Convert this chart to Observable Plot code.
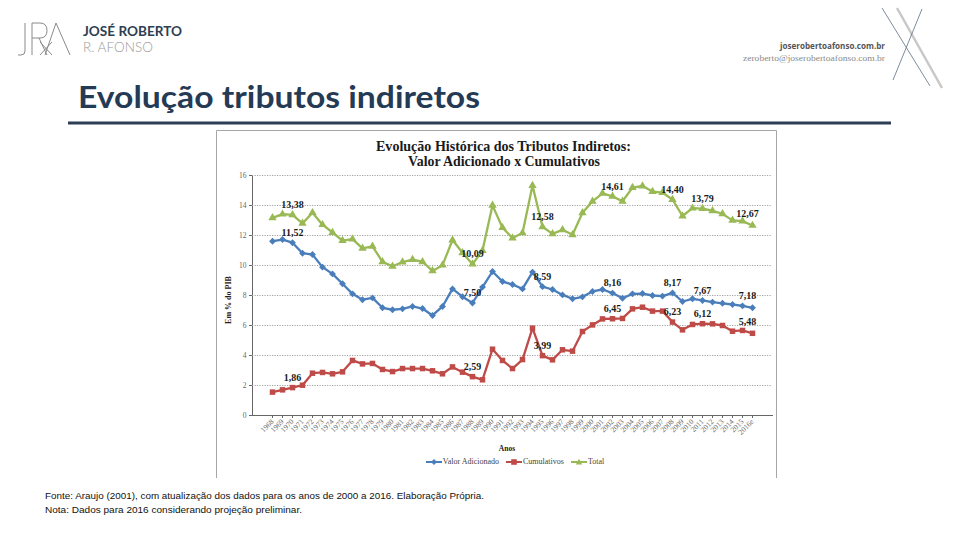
<!DOCTYPE html>
<html><head><meta charset="utf-8">
<script src="https://cdn.jsdelivr.net/npm/d3@7"></script>
<script src="https://cdn.jsdelivr.net/npm/@observablehq/plot@0.6"></script>
<style>
html,body{margin:0;padding:0;background:#fff;}
#page{position:relative;width:960px;height:540px;overflow:hidden;background:#fff;}
#deco{position:absolute;left:0;top:0;}
#plotwrap{position:absolute;left:216px;top:130px;width:561px;height:348px;}
#legend{position:absolute;left:0;top:457px;width:1030px;display:flex;justify-content:center;gap:7px;font-family:'Liberation Serif',serif;font-size:8px;color:#444;}
#legend .it{display:flex;align-items:center;gap:1px;}
</style></head><body><div id="page">
<svg id="deco" width="960" height="540">
  <!-- logo monogram -->
  <g fill="none" stroke="#8a8a8a" stroke-width="1">
    <path d="M25,23 V51 Q25,55 21,55 H18"/>
    <path d="M32,23 V55 M32,23 H40 Q47,23 47,30.5 Q47,38 40,38 H32 M39,38 L47,55"/>
    <path d="M45,55 L56,23 L70,55 M40,42 L52,55 M52,42 L40,55"/>
  </g>
  <text x="83" y="36" font-family="Lato, 'Open Sans', sans-serif" font-weight="bold" font-size="13" fill="#2f3f52" textLength="99" lengthAdjust="spacingAndGlyphs">JOSÉ ROBERTO</text>
  <text x="83" y="51.5" font-family="Lato, 'Open Sans', sans-serif" font-weight="300" font-size="13.5" fill="#9a9a9a" textLength="70" lengthAdjust="spacingAndGlyphs">R. AFONSO</text>
  <!-- top right -->
  <text x="885" y="49" text-anchor="end" font-family="'Open Sans', sans-serif" font-weight="bold" font-size="8" fill="#555" textLength="105" lengthAdjust="spacingAndGlyphs">joserobertoafonso.com.br</text>
  <text x="885" y="61" text-anchor="end" font-family="'Liberation Serif', serif" font-size="8.5" fill="#8a8a8a" textLength="142" lengthAdjust="spacingAndGlyphs">zeroberto@joserobertoafonso.com.br</text>
  <g fill="none">
    <line x1="897" y1="8" x2="942" y2="88" stroke="#c8c8c8" stroke-width="2.5"/>
    <line x1="882" y1="8" x2="930" y2="86" stroke="#5a6e85" stroke-width="0.8"/>
    <line x1="922" y1="9" x2="893" y2="80" stroke="#5a6e85" stroke-width="0.8"/>
  </g>
  <!-- main title -->
  <text x="78" y="108" font-family="Lato, 'Open Sans', sans-serif" font-weight="bold" font-size="30" fill="#253a55" textLength="402" lengthAdjust="spacingAndGlyphs">Evolução tributos indiretos</text>
  <rect x="68" y="121.5" width="823" height="3" fill="#2c3e55"/>
  <!-- chart box -->
  <path d="M216.5,478 V130.5 H776.5 V478" fill="none" stroke="#a6a6a6" stroke-width="1"/>
  <!-- chart title -->
  <text x="376" y="151" font-family="'Liberation Serif', serif" font-weight="bold" font-size="14" fill="#1a1a1a" textLength="255" lengthAdjust="spacingAndGlyphs">Evolução Histórica dos Tributos Indiretos:</text>
  <text x="408" y="166" font-family="'Liberation Serif', serif" font-weight="bold" font-size="14" fill="#1a1a1a" textLength="192" lengthAdjust="spacingAndGlyphs">Valor Adicionado x Cumulativos</text>
  <text transform="translate(231,300) rotate(-90)" text-anchor="middle" font-family="'Liberation Serif', serif" font-weight="bold" font-size="8" fill="#222">Em % do PIB</text>
  <text x="507" y="451" text-anchor="middle" font-family="'Liberation Serif', serif" font-weight="bold" font-size="7.5" fill="#222">Anos</text>
  <!-- footer -->
  <text x="45" y="499" font-family="'Liberation Sans', sans-serif" font-size="9" fill="#111" textLength="439" lengthAdjust="spacingAndGlyphs">Fonte: Araujo (2001), com atualização dos dados para os anos de 2000 a 2016. Elaboração Própria.</text>
  <text x="45" y="513" font-family="'Liberation Sans', sans-serif" font-size="9" fill="#111" textLength="257" lengthAdjust="spacingAndGlyphs">Nota: Dados para 2016 considerando projeção preliminar.</text>
</svg>
<div id="plotwrap"></div>
<div id="legend"></div>
</div>
<script>
const years = ["1968","1969","1970","1971","1972","1973","1974","1975","1976","1977",
  "1978","1979","1980","1981","1982","1983","1984","1985","1986","1987",
  "1988","1989","1990","1991","1992","1993","1994","1995","1996","1997",
  "1998","1999","2000","2001","2002","2003","2004","2005","2006","2007",
  "2008","2009","2010","2011","2012","2013","2014","2015","2016e"];
const valorAdicionado = [11.62,11.73,11.52,10.82,10.73,9.89,9.44,8.78,8.11,7.72,
  7.84,7.18,7.05,7.11,7.27,7.13,6.67,7.27,8.44,7.92,
  7.50,8.56,9.60,8.93,8.73,8.44,9.56,8.59,8.40,8.04,
  7.78,7.91,8.27,8.40,8.16,7.82,8.11,8.13,8.00,7.96,
  8.17,7.60,7.78,7.67,7.56,7.48,7.40,7.31,7.18];
const cumulativos = [1.56,1.71,1.86,2.02,2.82,2.87,2.78,2.91,3.67,3.44,
  3.47,3.07,2.93,3.13,3.13,3.13,2.98,2.78,3.24,2.89,
  2.59,2.38,4.42,3.67,3.13,3.73,5.82,3.99,3.71,4.38,
  4.29,5.60,6.04,6.44,6.45,6.47,7.11,7.22,6.96,6.96,
  6.23,5.71,6.07,6.12,6.11,6.00,5.62,5.67,5.48];
const total = [13.18,13.42,13.38,12.81,13.52,12.72,12.20,11.66,11.76,11.14,
  11.28,10.24,9.95,10.23,10.39,10.25,9.64,10.02,11.70,10.85,
  10.09,11.00,14.01,12.52,11.83,12.17,15.33,12.58,12.11,12.38,
  12.05,13.51,14.28,14.81,14.61,14.28,15.19,15.30,14.93,14.86,
  14.40,13.30,13.82,13.79,13.65,13.44,13.01,12.96,12.67];
const seriesNames = ["Valor Adicionado","Cumulativos","Total"];
const seriesColors = ["#4A7EBB","#BE4B48","#98B954"];
const seriesSymbols = ["diamond2","square","triangle"];
const labelYears = ["1970","1988","1995","2002","2008","2011","2016e"];
const yTicks = [0,2,4,6,8,10,12,14,16];

const seriesValues = [valorAdicionado, cumulativos, total];
const rows = [];
seriesNames.forEach((s, k) => years.forEach((y, i) => rows.push({year: y, serie: s, v: seriesValues[k][i]})));
const fmt = v => v.toFixed(2).replace(".", ",");
const labelRows = rows.filter(d => labelYears.includes(d.year));
const serif = "'Liberation Serif', serif";

const chart = Plot.plot({
  width: 561, height: 348,
  marginLeft: 36, marginRight: 5, marginTop: 45, marginBottom: 63,
  style: {fontFamily: serif, fontSize: "7.5px", color: "#666", background: "transparent"},
  x: {type: "point", domain: years, padding: 0.5, label: null, tickRotate: -45, tickSize: 3, tickPadding: 2, line: true},
  y: {domain: [0, 16], ticks: yTicks, label: null, tickSize: 3, tickPadding: 3, line: true},
  color: {domain: seriesNames, range: seriesColors},
  symbol: {domain: seriesNames, range: seriesSymbols},
  marks: [
    Plot.ruleY(yTicks.filter(d => d > 0), {stroke: "#a0a0a0", strokeDasharray: "1.2,1.3", strokeWidth: 1}),
    Plot.line(rows, {x: "year", y: "v", z: "serie", stroke: "serie", strokeWidth: 2.3}),
    Plot.dot(rows, {x: "year", y: "v", symbol: "serie", fill: "serie", r: 3.1}),
    Plot.text(labelRows.filter(d => d.year !== "2016e"), {x: "year", y: "v", text: d => fmt(d.v), dy: -10, fontWeight: "bold", fontSize: 10, fill: "#1a1a1a", fontFamily: serif}),
    Plot.text(labelRows.filter(d => d.year === "2016e"), {x: "year", y: "v", text: d => fmt(d.v), dy: -12, dx: -5, fontWeight: "bold", fontSize: 10, fill: "#1a1a1a", fontFamily: serif})
  ]
});
document.getElementById("plotwrap").appendChild(chart);

// legend
const leg = document.getElementById("legend");
const symPaths = {
  "diamond2": "M8,1 L11,4 L8,7 L5,4 Z",
  "square": "M5.2,1.2 H10.8 V6.8 H5.2 Z",
  "triangle": "M8,0.8 L11.2,6.6 L4.8,6.6 Z"
};
seriesNames.forEach((s, k) => {
  const it = document.createElement("div");
  it.className = "it";
  it.innerHTML = `<svg width="16" height="8"><line x1="0" y1="4" x2="16" y2="4" stroke="${seriesColors[k]}" stroke-width="2"/><path d="${symPaths[seriesSymbols[k]]}" fill="${seriesColors[k]}"/></svg><span>${s}</span>`;
  leg.appendChild(it);
});
</script>
</body></html>
